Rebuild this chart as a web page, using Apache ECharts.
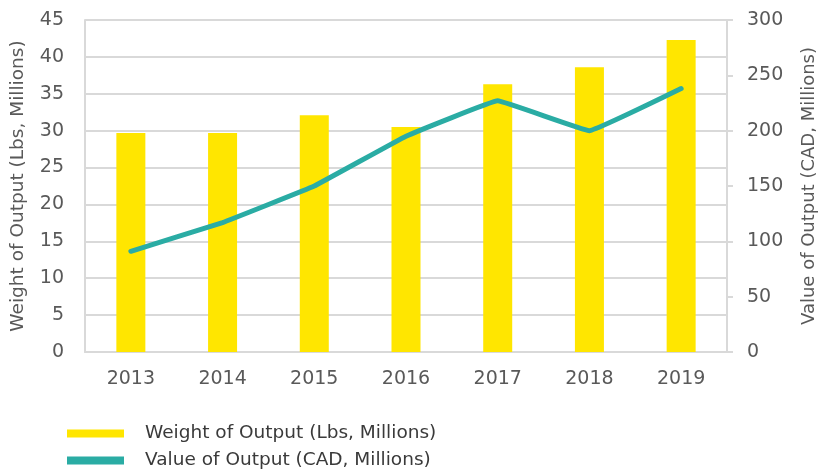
<!DOCTYPE html>
<html><head><meta charset="utf-8">
<script src="https://cdn.jsdelivr.net/npm/echarts@6/dist/echarts.min.js"></script>
<style>html,body{margin:0;padding:0;background:#fff}#c{width:819px;height:475px}</style>
</head><body><div id="c"></div>
<script>
const categories = ['2013','2014','2015','2016','2017','2018','2019'];
const weightValues = [29.7, 29.7, 32.1, 30.5, 36.3, 38.6, 42.3];
const valueValues = [91, 117, 150, 195, 227, 200, 238];
const leftTicks = [0,5,10,15,20,25,30,35,40,45];
const rightTicks = [0,50,100,150,200,250,300];
const weightName = 'Weight of Output (Lbs, Millions)';
const valueName = 'Value of Output (CAD, Millions)';

const font = 'DejaVu Sans';
const txt = '#595959';
const chart = echarts.init(document.getElementById('c'));
chart.setOption({
  animation:false,
  textStyle:{fontFamily:font},
  grid:{left:85,right:92,top:20,bottom:123,containLabel:false,outerBoundsMode:'none'},
  legend:{
    orient:'vertical', left:62, top:419, height:60, itemWidth:57, itemHeight:8, itemGap:8,
    textStyle:{fontFamily:font,fontSize:18.5,color:'#3a3a3a',padding:[0,0,0,16]},
    data:[{name:weightName,icon:'rect'},{name:valueName,icon:'rect'}]
  },
  xAxis:{type:'category',data:categories,
    axisLine:{lineStyle:{color:'#d9d9d9',width:2}},axisTick:{show:false},
    axisLabel:{color:txt,fontSize:19,margin:18}},
  yAxis:[
    {type:'value',min:leftTicks[0],max:leftTicks[leftTicks.length-1],interval:5,
     name:weightName,nameLocation:'middle',nameGap:57,nameRotate:90,
     nameTextStyle:{color:txt,fontSize:18.5},
     axisLine:{show:true,lineStyle:{color:'#d9d9d9',width:2}},axisTick:{show:false},
     axisLabel:{color:txt,fontSize:19,margin:21},
     splitLine:{lineStyle:{color:'#d9d9d9',width:2}}},
    {type:'value',min:rightTicks[0],max:rightTicks[rightTicks.length-1],interval:50,position:'right',
     name:valueName,nameLocation:'middle',nameGap:73,nameRotate:90,
     nameTextStyle:{color:txt,fontSize:18},
     axisLine:{show:true,lineStyle:{color:'#d9d9d9',width:2}},
     axisTick:{show:true,length:6,lineStyle:{color:'#d9d9d9',width:2}},
     axisLabel:{color:txt,fontSize:19,margin:20},
     splitLine:{show:false}}
  ],
  series:[
    {name:weightName,type:'bar',data:weightValues,barWidth:29,itemStyle:{color:'#FFE600'}},
    {name:valueName,type:'line',yAxisIndex:1,data:valueValues,smooth:0.06,symbol:'none',
     lineStyle:{color:'#2AACA4',width:5,cap:'round',join:'round'},itemStyle:{color:'#2AACA4'}}
  ]
});
</script></body></html>
